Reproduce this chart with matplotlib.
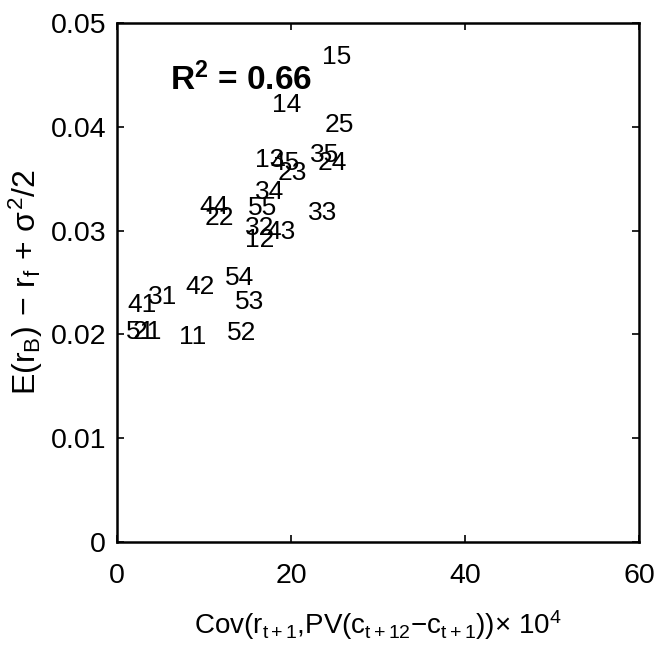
import numpy as np
import matplotlib
matplotlib.use('Agg')
import matplotlib.pyplot as plt

fam = 'Liberation Sans'
plt.rcParams['font.family'] = [fam, 'DejaVu Sans']
plt.rcParams['mathtext.fontset'] = 'custom'
plt.rcParams['mathtext.rm'] = fam
plt.rcParams['mathtext.it'] = fam
plt.rcParams['mathtext.bf'] = fam + ':bold'

# portfolio labels and their coordinates
labels = ['11', '12', '13', '14', '15',
          '21', '22', '23', '24', '25',
          '31', '32', '33', '34', '35',
          '41', '42', '43', '44', '45',
          '51', '52', '53', '54', '55']
cov = [7.1, 14.7, 15.9, 17.8, 23.6,
       1.8, 10.1, 18.4, 23.1, 23.9,
       3.6, 14.7, 22.0, 15.9, 22.2,
       1.15, 7.8, 17.2, 9.5, 17.6,
       1.0, 12.6, 13.6, 12.4, 15.1]
ret = [0.0197, 0.0291, 0.0368, 0.0421, 0.0467,
       0.0202, 0.0312, 0.0355, 0.0365, 0.0402,
       0.0236, 0.0302, 0.0317, 0.0337, 0.0373,
       0.0228, 0.0246, 0.0299, 0.0323, 0.0365,
       0.0202, 0.0201, 0.0231, 0.0254, 0.0322]
r2 = 0.66

fig = plt.figure(figsize=(6.58, 6.55), dpi=100)
ax = fig.add_axes([0.178, 0.1725, 0.793, 0.7925])

for lab, x, y in zip(labels, cov, ret):
    ax.text(x, y, lab, ha='left', va='center', fontsize=19)

ax.text(6.1, 0.0445, r'$\mathbf{R^2}$ = %.2f' % r2, ha='left', va='center',
        fontsize=24, fontweight='bold')

ax.set_xlim(0, 60)
ax.set_ylim(0, 0.05)
ax.set_xticks([0, 20, 40, 60])
ax.set_yticks([0, 0.01, 0.02, 0.03, 0.04, 0.05])
ax.set_yticklabels(['0', '0.01', '0.02', '0.03', '0.04', '0.05'])
ax.tick_params(direction='in', length=5, width=1.2, labelsize=20.5,
               top=True, right=True)
ax.tick_params(axis='x', pad=15)
ax.tick_params(axis='y', pad=8)
for s in ax.spines.values():
    s.set_linewidth(1.8)

ax.set_xlabel(r'Cov(r$_{\mathrm{t+1}}$,PV(c$_{\mathrm{t+12}}$$-$c$_{\mathrm{t+1}}$))$\times$ 10$^4$',
              fontsize=20, labelpad=14)
ax.set_ylabel(r'E(r$_{\mathrm{B}}$)$\,-\,$r$_{\mathrm{f}}$$\,+\,\sigma^{2}$/2',
              fontsize=23, labelpad=4)

fig.savefig('out.png', dpi=100)
